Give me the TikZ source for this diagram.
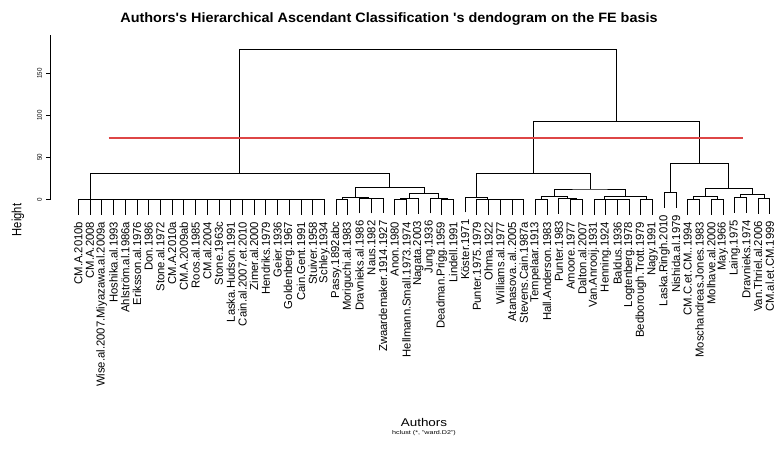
\documentclass[tikz,border=0pt]{standalone}
\usepackage{fontspec}
\setmainfont{Liberation Sans}
\usetikzlibrary{calc}

\definecolor{cutred}{RGB}{222,70,70}

\tikzset{
  dendro/.style={draw=black, line width=0.75pt},
  axisline/.style={draw=black, line width=0.75pt},
  cutline/.style={draw=cutred, line width=1.6pt},
  leaflabel/.style={font=\fontsize{11.3}{12}\selectfont, inner sep=0pt, anchor=east, xscale=1.02, rotate=90},
  ticklabel/.style={font=\fontsize{6.2}{7}\selectfont, inner sep=0pt, xscale=1.1, rotate=90},
  maintitle/.style={font=\bfseries\fontsize{13.6}{15}\selectfont, inner sep=0pt, xscale=1.06},
  axislabel/.style={font=\fontsize{11.2}{12}\selectfont, inner sep=0pt},
  sublabel/.style={font=\fontsize{5.5}{6}\selectfont, inner sep=0pt, xscale=1.3}
}

% leaf: name, position, height of its parent, text
\newcommand{\dleaf}[4]{%
  \coordinate (#1) at (#2-1,#3-17.9);
  \node[leaflabel] (#1txt) at ([yshift=-7pt]#1) {#4};
}
% merge: name, left, right, height
\newcommand{\dmerge}[4]{%
  \coordinate (#1mid) at ($(#2)!0.5!(#3)$);
  \coordinate (#1) at (#1mid |- 0,#4);
  \draw[dendro] (#2) |- (#1) -| (#3);
}

\begin{document}
\begin{tikzpicture}[x=1pt, y=-1pt]
\useasboundingbox (0,0) rectangle (779,463);

\node[maintitle] (title) at (389,19) {Authors\textquotesingle s Hierarchical Ascendant Classification \textquotesingle s dendogram on the FE basis};

% axis
\coordinate (axbot) at (50.7,199.5);
\coordinate (axtop) at (50.7,35);
\draw[axisline] (axbot) -- (axtop);
\foreach \v in {0,50,100,150} {
  \coordinate (tick\v) at (50.7,{199.5-0.84*\v});
  \draw[axisline] (tick\v) -- ++(-4.5,0);
  \node[ticklabel] (tl\v) at (39.5,{199.5-0.84*\v}) {\v};
}
\node[axislabel, xscale=1.2, rotate=90] (ylab) at (18,220) {Height};
\node[axislabel, xscale=1.2] (xlab) at (424,422) {Authors};
\node[sublabel] (sub) at (424,433) {hclust (*, "ward.D2")};

\begin{scope}[shift={(78.3,199.5)}, x=11.72pt, y=0.84pt]
% leaves
\foreach \i/\h/\t in {1/0/CM.A.2010b, 2/0/CM.A.2008, 3/0/Wise.al.2007.Miyazawa.al.2009a,
  4/0/Hoshika.al.1993, 5/0/Ahlström.al.1986a, 6/0/Eriksson.al.1976, 7/0/Don.1986,
  8/0/Stone.al.1972, 9/0/CM.A.2010a, 10/0/CM.A.2009ab, 11/0/Roos.al.1985, 12/0/CM.al.2004,
  13/0/Stone.1963c, 14/0/Laska.Hudson.1991, 15/0/Cain.al.2007.et.2010, 16/0/Zimer.al.2000,
  17/0/Hendriks.1979, 18/0/Geier.1936, 19/0/Goldenberg.1967, 20/0/Cain.Gent.1991,
  21/0/Stuiver.1958, 22/0/Schley.1934, 23/0/Passy.1892abc, 24/0/Moriguchi.al.1983,
  25/1.5/Dravnieks.al.1986, 26/1.5/Naus.1982, 27/1.5/Zwaardemaker.1914.1927, 28/0/Anon.1980,
  29/0/Hellmann.Small.1973.1974, 30/1/Nagata.2003, 31/1.5/Jung.1936, 32/0/Deadman.Prigg.1959,
  33/0/Lindell.1991, 34/2.6/Köster.1971, 35/0/Punter.1975.1979, 36/0/Ohma.1922,
  37/0/Williams.al.1977, 38/0/Atanasova..al..2005, 39/0/Stevens.Cain.1987a, 40/0/Tempelaar.1913,
  41/0/Hall.Anderson.1983, 42/1/Punter.1983, 43/0/Amoore.1977, 44/0/Dalton.al.2007,
  45/0/Van.Anrooij.1931, 46/0/Henning.1924, 47/0/Baldus.1936, 48/0/Logtenberg.1978,
  49/0/Bedborough.Trott.1979, 50/0/Nagy.1991, 51/8.1/Laska.Ringh.2010, 52/8.1/Nishida.al.1979,
  53/0/CM.C.et.CM..1994, 54/0/Moschandreas.Jones.1983, 55/0/Molhave.al.2000, 56/0/May.1966,
  57/2/Laing.1975, 58/2/Dravnieks.1974, 59/1/Van.Thriel.al.2006, 60/1/CM.al.et.CM.1999}
  {\dleaf{l\i}{\i}{\h}{\t}}

% left block, all at zero
\dmerge{c21}{l21}{l22}{0}
\foreach \i in {20,...,1} {
  \pgfmathtruncatemacro\j{\i+1}
  \dmerge{c\i}{l\i}{c\j}{0}
}
\dmerge{p23}{l23}{l24}{0}
\dmerge{p26}{l26}{l27}{1.5}
\dmerge{p25}{l25}{p26}{1.5}
\dmerge{q23}{p23}{p25}{2.6}
\dmerge{p28}{l28}{l29}{0}
\dmerge{p30}{p28}{l30}{1}
\dmerge{p32}{l32}{l33}{0}
\dmerge{p31}{l31}{p32}{1.5}
\dmerge{q28}{p30}{p31}{7.4}
\dmerge{r23}{q23}{q28}{14.5}
\dmerge{clA}{c1}{r23}{31.2}

% right block
\dmerge{d38}{l38}{l39}{0}
\dmerge{d37}{l37}{d38}{0}
\dmerge{d36}{l36}{d37}{0}
\dmerge{d35}{l35}{d36}{0}
\dmerge{q34}{l34}{d35}{2.6}
\dmerge{p40}{l40}{l41}{0}
\dmerge{p43}{l43}{l44}{0}
\dmerge{p42}{l42}{p43}{1}
\dmerge{q40}{p40}{p42}{4.2}
\dmerge{d47}{l47}{l48}{0}
\dmerge{d46}{l46}{d47}{0}
\dmerge{d45}{l45}{d46}{0}
\dmerge{p49}{l49}{l50}{0}
\dmerge{q45}{d45}{p49}{3.4}
\dmerge{r40}{q40}{q45}{12.5}
\dmerge{clB1}{q34}{r40}{31.2}
\dmerge{q51}{l51}{l52}{8.1}
\dmerge{p53}{l53}{l54}{0}
\dmerge{p55}{l55}{l56}{0}
\dmerge{q53}{p53}{p55}{3.4}
\dmerge{p57}{l57}{l58}{2}
\dmerge{p59}{l59}{l60}{1}
\dmerge{q57}{p57}{p59}{6.2}
\dmerge{r53}{q53}{q57}{13.3}
\dmerge{clB2}{q51}{r53}{43}
\dmerge{clB}{clB1}{clB2}{93.5}
\dmerge{root}{clA}{clB}{179}
\end{scope}

% cut height
\coordinate (cutL) at (108.5,138);
\coordinate (cutR) at (742.7,138);
\draw[cutline] (cutL) -- (cutR);
\end{tikzpicture}
\end{document}
